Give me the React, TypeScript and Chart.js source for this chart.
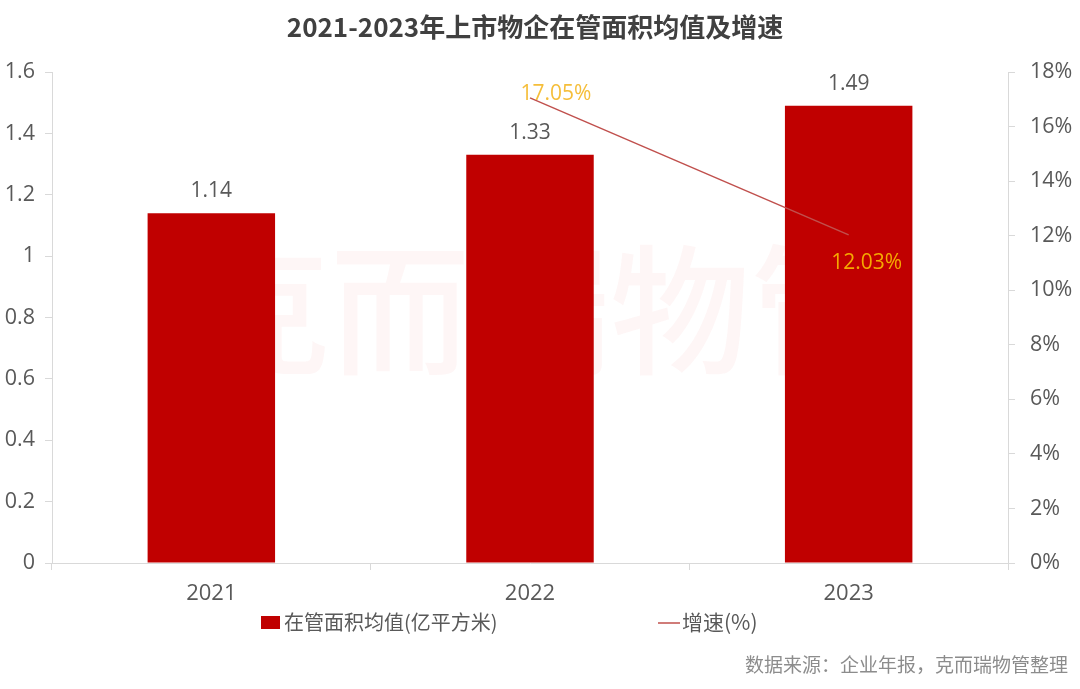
import React, { useEffect, useRef } from "react";
import { Chart, registerables } from "chart.js";

Chart.register(...registerables);

const categories = ["2021", "2022", "2023"];
const areaValues = [1.14, 1.33, 1.49];
const growthValues: (number | null)[] = [null, 17.05, 12.03];
const leftTicks = [0, 0.2, 0.4, 0.6, 0.8, 1, 1.2, 1.4, 1.6];
const rightTicks = [0, 2, 4, 6, 8, 10, 12, 14, 16, 18];

const titleText = "2021-2023年上市物企在管面积均值及增速";
const barLegend = "在管面积均值(亿平方米)";
const lineLegend = "增速(%)";
const sourceText = "数据来源：企业年报，克而瑞物管整理";
const watermark = "克而瑞物管";

const FONT = "'Open Sans', 'Noto Sans CJK SC', sans-serif";
const CJK = "'Noto Sans CJK SC', 'Open Sans', sans-serif";

const decorPlugin = {
  id: "decor",
  beforeDatasetsDraw(chart: any) {
    const ctx = chart.ctx;
    ctx.save();
    ctx.font = `500 140px ${CJK}`;
    ctx.fillStyle = "rgba(235, 40, 40, 0.045)";
    ctx.textAlign = "center";
    ctx.textBaseline = "middle";
    ctx.fillText(watermark, 540, 310);
    ctx.restore();
  },
  afterDatasetsDraw(chart: any) {
    const ctx = chart.ctx;
    ctx.save();
    const barMeta = chart.getDatasetMeta(0);
    ctx.font = `21px ${FONT}`;
    ctx.fillStyle = "#595959";
    ctx.textAlign = "center";
    ctx.textBaseline = "middle";
    barMeta.data.forEach((el: any, i: number) => {
      ctx.fillText(String(areaValues[i]), el.x, el.y - 22);
    });
    const lineMeta = chart.getDatasetMeta(1);
    const offsets: Record<number, [number, number]> = { 1: [26, -4], 2: [18, 28] };
    const colors: Record<number, string> = { 1: "#F5BE3A", 2: "#F5A800" };
    lineMeta.data.forEach((el: any, i: number) => {
      const v = growthValues[i];
      if (v == null) return;
      const [dx, dy] = offsets[i] || [0, -20];
      ctx.fillStyle = colors[i] || "#F5B800";
      ctx.fillText(v.toFixed(2) + "%", el.x + dx, el.y + dy);
    });
    ctx.restore();
  },
  afterDraw(chart: any) {
    const ctx = chart.ctx;
    ctx.save();
    ctx.font = `bold 26px ${CJK}`;
    ctx.fillStyle = "#404040";
    ctx.textAlign = "center";
    ctx.textBaseline = "middle";
    ctx.fillText(titleText, 535, 27);
    // legend
    ctx.fillStyle = "#C00000";
    ctx.fillRect(261, 616, 19, 13);
    ctx.font = `20px ${CJK}`;
    ctx.fillStyle = "#595959";
    ctx.textAlign = "left";
    ctx.fillText(barLegend, 284, 622);
    ctx.strokeStyle = "#C0504D";
    ctx.lineWidth = 1.5;
    ctx.beginPath();
    ctx.moveTo(658, 623);
    ctx.lineTo(680, 623);
    ctx.stroke();
    ctx.font = `21px ${CJK}`;
    ctx.fillText(lineLegend, 682, 622);
    // source
    ctx.font = `19px ${CJK}`;
    ctx.fillStyle = "#8C8C8C";
    ctx.textAlign = "right";
    ctx.fillText(sourceText, 1068, 665);
    ctx.restore();
  },
};

export default function App() {
  const ref = useRef<HTMLCanvasElement | null>(null);
  useEffect(() => {
    document.body.style.margin = "0";
    const canvas = ref.current;
    if (!canvas) return;
    const chart = new Chart(canvas, {
      type: "bar",
      data: {
        labels: categories,
        datasets: [
          {
            type: "bar",
            label: barLegend,
            data: areaValues,
            backgroundColor: "#C00000",
            yAxisID: "y",
            barPercentage: 0.4,
            categoryPercentage: 1,
            order: 2,
          },
          {
            type: "line",
            label: lineLegend,
            data: growthValues as any,
            borderColor: "#C0504D",
            borderWidth: 1.5,
            pointRadius: 0,
            yAxisID: "y1",
            spanGaps: false,
            order: 1,
          } as any,
        ],
      },
      options: {
        responsive: false,
        animation: false,
        layout: { padding: { top: 72, left: 0, right: 0, bottom: 0 } },
        plugins: {
          legend: { display: false },
          title: { display: false },
          tooltip: { enabled: false },
        },
        scales: {
          x: {
            grid: {
              display: true,
              drawOnChartArea: false,
              drawTicks: true,
              tickLength: 7,
              color: "#D9D9D9",
              offset: true,
            },
            border: { color: "#D9D9D9", width: 1 },
            ticks: { color: "#595959", font: { size: 22, family: FONT }, padding: 11 },
            afterFit(scale: any) {
              scale.height = 126;
            },
          },
          y: {
            position: "left",
            min: 0,
            max: 1.6,
            afterBuildTicks(scale: any) {
              scale.ticks = leftTicks.map((v) => ({ value: v }));
            },
            grid: {
              display: true,
              drawOnChartArea: false,
              drawTicks: true,
              tickLength: 7,
              color: "#D9D9D9",
            },
            border: { color: "#D9D9D9", width: 1 },
            ticks: {
              color: "#595959",
              font: { size: 21.5, family: FONT },
              padding: 10,
              callback: (v: any) => String(Math.round(Number(v) * 10) / 10),
            },
            afterFit(scale: any) {
              scale.width = 52;
            },
          },
          y1: {
            position: "right",
            min: 0,
            max: 18,
            afterBuildTicks(scale: any) {
              scale.ticks = rightTicks.map((v) => ({ value: v }));
            },
            grid: {
              display: true,
              drawOnChartArea: false,
              drawTicks: true,
              tickLength: 7,
              color: "#D9D9D9",
            },
            border: { color: "#D9D9D9", width: 1 },
            ticks: {
              color: "#595959",
              font: { size: 21.5, family: FONT },
              padding: 15,
              callback: (v: any) => `${v}%`,
            },
            afterFit(scale: any) {
              scale.width = 72;
            },
          },
        },
      },
      plugins: [decorPlugin],
    });
    return () => chart.destroy();
  }, []);

  return (
    <div style={{ width: 1080, height: 689, background: "#fff" }}>
      <canvas ref={ref} width={1080} height={689} style={{ display: "block" }} />
    </div>
  );
}
